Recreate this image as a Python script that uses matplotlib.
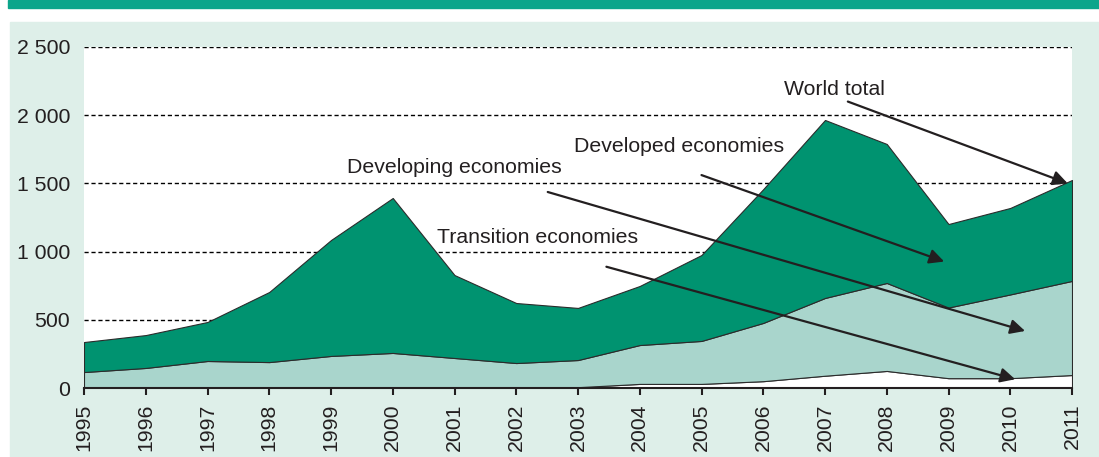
#!/usr/bin/env python3

"""Stacked area chart: world total split by economy group, 1995-2011."""

import numpy as np
from matplotlib import pyplot as plt
from matplotlib.patches import Rectangle
import matplotlib.ticker as tick

plt.rcParams['font.family'] = ['Liberation Sans', 'DejaVu Sans']

years = list(range(1995, 2012))
transition = [3, 4, 5, 4, 4, 5, 6, 5, 6, 30, 30, 50, 90, 125, 72, 72, 95]
developing = [114, 143, 193, 186, 231, 252, 214, 178, 199, 285, 315, 427, 570, 645, 518, 614, 690]
developed = [220, 241, 286, 514, 850, 1136, 608, 440, 382, 433, 630, 981, 1305, 1019, 612, 634, 740]

yticks = [0, 500, 1000, 1500, 2000, 2500]
ytick_labels = ["0", "500", "1 000", "1 500", "2 000", "2 500"]

# label text, text position, arrow start, arrow tip (data coords)
labels = [
    ("World total", (2007.16, 2185), (2007.37, 2100), (2010.93, 1500)),
    ("Developed economies", (2004.64, 1767), (2005.0, 1561), (2008.93, 927)),
    ("Developing economies", (2000.99, 1620), (2002.51, 1437), (2010.24, 418)),
    ("Transition economies", (2002.35, 1107), (2003.46, 889), (2010.08, 64)),
]

dark = "#009370"
light = "#a9d5cc"
mint = "#deefe9"
band = "#0ca58b"
ink = "#231f20"
fsize = 15.3

fig = plt.figure(figsize=(10.99, 4.57), dpi=100, facecolor="white")
fig.patches.append(Rectangle((10 / 1099, 0), 1 - 10 / 1099, 435 / 457,
                             transform=fig.transFigure, color=mint, zorder=-2))
fig.patches.append(Rectangle((8 / 1099, 1 - 8 / 457), 1 - 8 / 1099, 8 / 457,
                             transform=fig.transFigure, color=band, zorder=-2))

ax = fig.add_axes([84 / 1099, 1 - 388 / 457, (1072 - 84) / 1099, (388 - 47) / 457])
ax.set_facecolor("white")

ax.stackplot(years, transition, developing, developed,
             colors=["white", light, dark], edgecolor="#2b2b2b", linewidth=0.8)

ax.set_xlim(1995, 2011)
ax.set_ylim(0, 2500)
ax.set_axisbelow(True)
ax.yaxis.grid(True, color="black", linestyle=(0, (3, 2)), linewidth=1.0)

ax.set_yticks(yticks)
ax.set_yticklabels(ytick_labels)
ax.set_xticks(years)
ax.set_xticklabels([str(y) for y in years], rotation=90)
ax.tick_params(axis="y", length=0, pad=10, labelsize=fsize, labelcolor=ink)
ax.tick_params(axis="x", length=5, width=1.5, direction="out", pad=6,
               labelsize=fsize, labelcolor=ink, color=ink)

for side in ["left", "top", "right"]:
    ax.spines[side].set_visible(False)
ax.spines["bottom"].set_linewidth(1.5)
ax.spines["bottom"].set_color(ink)
ax.spines["bottom"].set_zorder(5)

for text, pos, start, end in labels:
    ax.text(pos[0], pos[1], text, ha="center", va="center", fontsize=fsize, color=ink)
    ax.annotate("", xy=end, xytext=start,
                arrowprops=dict(arrowstyle="-|>", color=ink, lw=1.6,
                                mutation_scale=22, shrinkA=0, shrinkB=0))

plt.savefig("out.png", dpi=100)
